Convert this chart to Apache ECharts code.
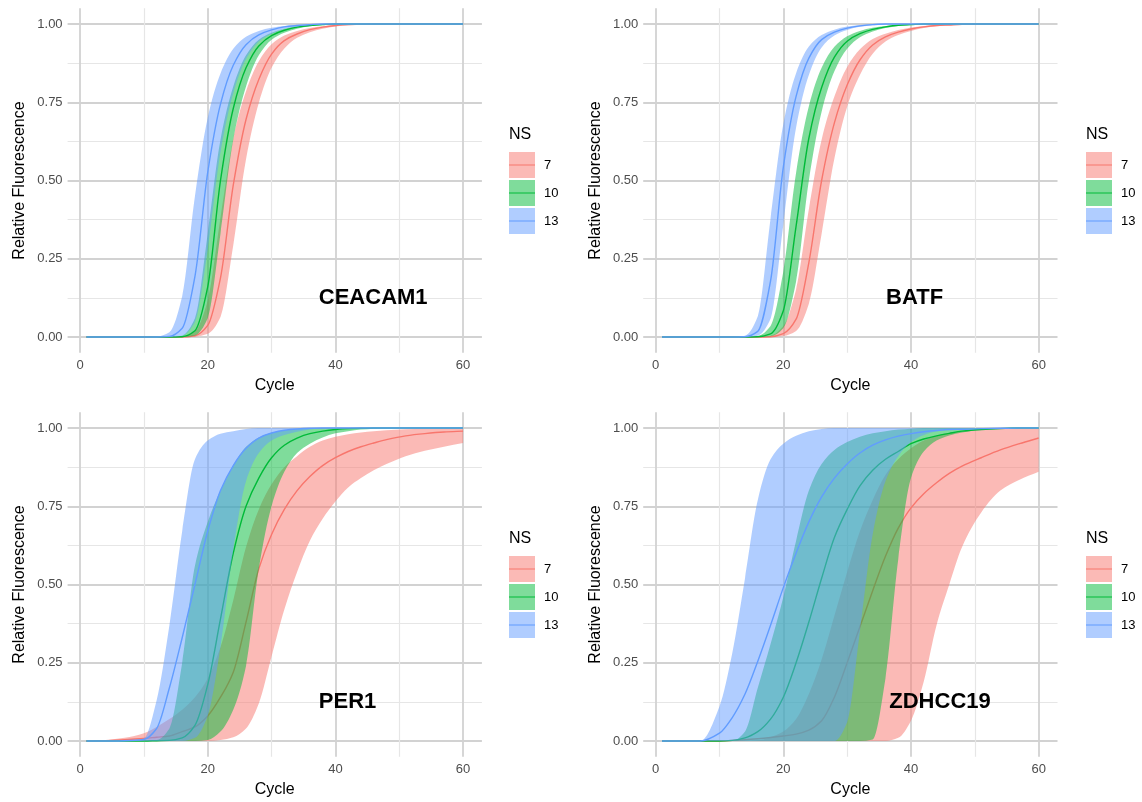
<!DOCTYPE html>
<html>
<head>
<meta charset="utf-8">
<script src="https://cdn.jsdelivr.net/npm/echarts@6/dist/echarts.min.js"></script>
<style>
  html, body { margin: 0; padding: 0; background: #ffffff; }
  #chart { width: 1142px; height: 802px; }
</style>
</head>
<body>
<div id="chart"></div>
<script>
// Amplification cycles at which each fitted curve and its band are tabulated
const cycles = [1, 4, 7, 10, 12, 14, 16, 18, 20, 22, 24, 26, 28, 30, 32, 34, 36, 38, 40, 42, 44, 46, 48, 51, 54, 57, 60];

const genes = ['CEACAM1', 'BATF', 'PER1', 'ZDHCC19'];
const nsLevels = ['7', '10', '13'];
const nsColors = ['#F8766D', '#00BA38', '#619CFF'];
const ribbonColors = ['rgba(248,118,109,0.5)', 'rgba(0,186,56,0.5)', 'rgba(97,156,255,0.5)'];

const xTicks = [0, 20, 40, 60];
const xMinorTicks = [10, 30, 50];
const yTicks = [0, 0.25, 0.5, 0.75, 1];
const yTickLabels = ['0.00', '0.25', '0.50', '0.75', '1.00'];
const yMinorTicks = [0.125, 0.375, 0.625, 0.875];

// gene label anchor (left edge) per panel
const labelCycle = [37.4, 36.1, 37.4, 36.6];
const labelLevel = 0.125;

// ---- CEACAM1 ----
const CEACAM1_7_lo  = [0,0,0,0,0,0,0,0.001,0.01,0.064,0.293,0.568,0.748,0.86,0.922,0.956,0.974,0.985,0.992,0.996,0.998,0.999,1,1,1,1,1];
const CEACAM1_7_fit = [0,0,0,0,0,0,0,0.004,0.037,0.189,0.485,0.695,0.823,0.904,0.947,0.968,0.982,0.99,0.995,0.998,0.999,1,1,1,1,1,1];
const CEACAM1_7_hi  = [0,0,0,0,0,0,0.001,0.018,0.117,0.381,0.634,0.785,0.881,0.935,0.963,0.978,0.987,0.993,0.997,0.999,1,1,1,1,1,1,1];
const CEACAM1_10_lo  = [0,0,0,0,0,0,0,0.005,0.06,0.33,0.63,0.8,0.9,0.95,0.972,0.985,0.993,0.997,0.999,1,1,1,1,1,1,1,1];
const CEACAM1_10_fit = [0,0,0,0,0,0,0.001,0.02,0.16,0.5,0.73,0.86,0.93,0.963,0.98,0.99,0.995,0.998,1,1,1,1,1,1,1,1,1];
const CEACAM1_10_hi  = [0,0,0,0,0,0,0.005,0.06,0.33,0.63,0.8,0.9,0.95,0.972,0.985,0.993,0.997,0.999,1,1,1,1,1,1,1,1,1];
const CEACAM1_13_lo  = [0,0,0,0,0,0,0.004,0.048,0.279,0.591,0.779,0.888,0.944,0.969,0.984,0.992,0.996,0.999,1,1,1,1,1,1,1,1,1];
const CEACAM1_13_fit = [0,0,0,0,0,0.002,0.028,0.194,0.526,0.744,0.868,0.934,0.965,0.981,0.991,0.995,0.998,1,1,1,1,1,1,1,1,1,1];
const CEACAM1_13_hi  = [0,0,0,0,0.001,0.015,0.13,0.45,0.7,0.842,0.921,0.959,0.978,0.988,0.994,0.998,1,1,1,1,1,1,1,1,1,1,1];

// ---- BATF ----
const BATF_7_lo  = [0,0,0,0,0,0,0,0,0.003,0.019,0.106,0.33,0.57,0.736,0.837,0.905,0.944,0.965,0.978,0.987,0.993,0.996,0.998,1,1,1,1];
const BATF_7_fit = [0,0,0,0,0,0,0,0.001,0.011,0.057,0.238,0.5,0.684,0.805,0.885,0.933,0.959,0.974,0.984,0.991,0.995,0.997,0.999,1,1,1,1];
const BATF_7_hi  = [0,0,0,0,0,0,0,0.004,0.035,0.152,0.408,0.63,0.768,0.863,0.919,0.952,0.969,0.981,0.989,0.994,0.997,0.998,0.999,1,1,1,1];
const BATF_10_lo  = [0,0,0,0,0,0,0,0.002,0.028,0.177,0.5,0.72,0.849,0.921,0.958,0.976,0.987,0.994,0.997,0.999,1,1,1,1,1,1,1];
const BATF_10_fit = [0,0,0,0,0,0,0.001,0.01,0.084,0.354,0.635,0.797,0.894,0.945,0.969,0.983,0.991,0.996,0.998,1,1,1,1,1,1,1,1];
const BATF_10_hi  = [0,0,0,0,0,0,0.003,0.035,0.209,0.525,0.737,0.86,0.927,0.961,0.978,0.988,0.994,0.997,0.999,1,1,1,1,1,1,1,1];
const BATF_13_lo  = [0,0,0,0,0,0,0.004,0.058,0.359,0.669,0.837,0.925,0.963,0.981,0.991,0.996,0.999,1,1,1,1,1,1,1,1,1,1];
const BATF_13_fit = [0,0,0,0,0,0.001,0.018,0.179,0.543,0.769,0.891,0.95,0.974,0.987,0.994,0.998,1,1,1,1,1,1,1,1,1,1,1];
const BATF_13_hi  = [0,0,0,0,0,0.004,0.066,0.378,0.68,0.843,0.928,0.965,0.982,0.992,0.997,0.999,1,1,1,1,1,1,1,1,1,1,1];

// ---- PER1 ----
const PER1_7_lo  = [0,0,0,0,0,0,0,0,0,0.003,0.012,0.04,0.12,0.27,0.42,0.54,0.64,0.71,0.765,0.81,0.84,0.865,0.885,0.91,0.927,0.94,0.952];
const PER1_7_fit = [0,0.001,0.004,0.008,0.012,0.016,0.03,0.045,0.08,0.14,0.22,0.38,0.55,0.66,0.74,0.8,0.845,0.88,0.905,0.925,0.94,0.952,0.963,0.975,0.982,0.987,0.99];
const PER1_7_hi  = [0,0.003,0.01,0.025,0.045,0.07,0.1,0.14,0.2,0.3,0.45,0.62,0.74,0.82,0.875,0.91,0.94,0.96,0.972,0.98,0.986,0.99,0.993,0.996,0.998,0.999,1];
const PER1_10_lo  = [0,0,0,0,0,0,0,0,0.003,0.03,0.1,0.24,0.55,0.75,0.86,0.92,0.95,0.97,0.983,0.99,0.995,0.998,0.999,1,1,1,1];
const PER1_10_fit = [0,0,0,0,0.001,0.002,0.01,0.05,0.18,0.39,0.6,0.75,0.84,0.905,0.945,0.968,0.982,0.99,0.995,0.998,0.999,1,1,1,1,1,1];
const PER1_10_hi  = [0,0,0,0,0.003,0.04,0.25,0.56,0.7,0.8,0.88,0.94,0.97,0.985,0.993,0.997,0.999,1,1,1,1,1,1,1,1,1,1];
const PER1_13_lo  = [0,0,0,0,0,0,0,0.01,0.08,0.3,0.61,0.83,0.92,0.96,0.978,0.988,0.995,0.999,1,1,1,1,1,1,1,1,1];
const PER1_13_fit = [0,0,0.001,0.005,0.04,0.17,0.33,0.5,0.67,0.8,0.88,0.935,0.968,0.984,0.993,0.997,0.999,1,1,1,1,1,1,1,1,1,1];
const PER1_13_hi  = [0,0,0.001,0.008,0.13,0.37,0.67,0.9,0.96,0.982,0.99,0.997,1,1,1,1,1,1,1,1,1,1,1,1,1,1,1];

// ---- ZDHCC19 ----
const ZDHCC19_7_lo  = [0,0,0,0,0,0,0,0,0,0,0,0,0,0,0,0,0,0.01,0.065,0.19,0.37,0.5,0.62,0.73,0.8,0.835,0.86];
const ZDHCC19_7_fit = [0,0,0,0,0.002,0.004,0.007,0.011,0.016,0.022,0.035,0.065,0.14,0.25,0.365,0.48,0.59,0.68,0.745,0.79,0.825,0.855,0.878,0.905,0.93,0.95,0.968];
const ZDHCC19_7_hi  = [0,0,0,0,0,0,0.002,0.012,0.03,0.07,0.15,0.26,0.4,0.54,0.67,0.77,0.85,0.9,0.935,0.96,0.975,0.985,0.99,0.996,0.998,1,1];
const ZDHCC19_10_lo  = [0,0,0,0,0,0,0,0,0,0,0,0,0,0,0,0.005,0.2,0.58,0.84,0.925,0.96,0.976,0.986,0.994,0.998,1,1];
const ZDHCC19_10_fit = [0,0,0,0,0.002,0.01,0.03,0.07,0.14,0.25,0.38,0.52,0.65,0.74,0.815,0.865,0.9,0.925,0.95,0.965,0.975,0.983,0.99,0.995,0.998,1,1];
const ZDHCC19_10_hi  = [0,0,0,0,0,0.03,0.17,0.31,0.46,0.64,0.8,0.885,0.93,0.955,0.972,0.983,0.99,0.995,0.998,1,1,1,1,1,1,1,1];
const ZDHCC19_13_lo  = [0,0,0,0,0,0,0,0,0,0,0,0,0,0.06,0.35,0.66,0.83,0.91,0.955,0.978,0.99,0.995,0.998,1,1,1,1];
const ZDHCC19_13_fit = [0,0,0,0.025,0.075,0.15,0.255,0.37,0.49,0.6,0.7,0.78,0.84,0.885,0.92,0.945,0.962,0.974,0.982,0.988,0.992,0.995,0.996,0.998,0.999,1,1];
const ZDHCC19_13_hi  = [0,0,0,0.11,0.28,0.52,0.77,0.9,0.95,0.975,0.99,0.997,1,1,1,1,1,1,1,1,1,1,1,1,1,1,1];

// lower / fit / upper per gene and NS level
const curveTable = [
  [[CEACAM1_7_lo, CEACAM1_7_fit, CEACAM1_7_hi], [CEACAM1_10_lo, CEACAM1_10_fit, CEACAM1_10_hi], [CEACAM1_13_lo, CEACAM1_13_fit, CEACAM1_13_hi]],
  [[BATF_7_lo, BATF_7_fit, BATF_7_hi], [BATF_10_lo, BATF_10_fit, BATF_10_hi], [BATF_13_lo, BATF_13_fit, BATF_13_hi]],
  [[PER1_7_lo, PER1_7_fit, PER1_7_hi], [PER1_10_lo, PER1_10_fit, PER1_10_hi], [PER1_13_lo, PER1_13_fit, PER1_13_hi]],
  [[ZDHCC19_7_lo, ZDHCC19_7_fit, ZDHCC19_7_hi], [ZDHCC19_10_lo, ZDHCC19_10_fit, ZDHCC19_10_hi], [ZDHCC19_13_lo, ZDHCC19_13_fit, ZDHCC19_13_hi]]
];

// ---- layout ----
const FONT = '"Liberation Sans", Arial, Helvetica, sans-serif';
const panelLeft = [67.6, 643.2, 67.6, 643.2];
const panelTop = [8.35, 8.35, 412.35, 412.35];
const PANEL_W = 414.3;
const PANEL_H = 344.3;
const legendLeft = [509, 1086, 509, 1086];
const legendTop = [152, 152, 556, 556];
const X_MIN = -1.95, X_MAX = 62.95;
const Y_MIN = -0.05, Y_MAX = 1.05;
const majorGrid = { color: '#d2d2d2', width: 1.8 };
const minorGrid = { color: '#e6e6e6', width: 1.2 };
// thin horizontal bar with hair-thin corner anchors so the icon keeps a 26x26 box
const keyLineIcon = 'path://M0,0h0.01v0.01h-0.01z M0,12.4h26v1.2h-26z M25.99,25.99h0.01v0.01h-0.01z';

// Monotone cubic (Fritsch-Carlson) tangents for pixel points ordered by x
function tangents(p) {
  const n = p.length, d = [], m = [];
  for (let i = 0; i < n - 1; i++) {
    const dx = p[i + 1][0] - p[i][0];
    d.push(dx);
    m.push((p[i + 1][1] - p[i][1]) / dx);
  }
  const t = new Array(n);
  t[0] = m[0];
  t[n - 1] = m[n - 2];
  for (let i = 1; i < n - 1; i++) {
    if (m[i - 1] * m[i] <= 0) { t[i] = 0; continue; }
    const w1 = 2 * d[i] + d[i - 1], w2 = d[i] + 2 * d[i - 1];
    t[i] = (w1 + w2) / (w1 / m[i - 1] + w2 / m[i]);
  }
  return t;
}
// path segments through points, forward or backward
function curveSegments(p, reverse) {
  const t = tangents(p);
  const f = v => v.toFixed(2);
  let s = '';
  if (!reverse) {
    for (let i = 0; i < p.length - 1; i++) {
      const h = (p[i + 1][0] - p[i][0]) / 3;
      s += ' C' + f(p[i][0] + h) + ',' + f(p[i][1] + t[i] * h) + ' ' +
           f(p[i + 1][0] - h) + ',' + f(p[i + 1][1] - t[i + 1] * h) + ' ' +
           f(p[i + 1][0]) + ',' + f(p[i + 1][1]);
    }
  } else {
    for (let i = p.length - 1; i > 0; i--) {
      const h = (p[i][0] - p[i - 1][0]) / 3;
      s += ' C' + f(p[i][0] - h) + ',' + f(p[i][1] - t[i] * h) + ' ' +
           f(p[i - 1][0] + h) + ',' + f(p[i - 1][1] + t[i - 1] * h) + ' ' +
           f(p[i - 1][0]) + ',' + f(p[i - 1][1]);
    }
  }
  return s;
}

const grids = [], xAxes = [], yAxes = [], series = [], legends = [], titles = [];

genes.forEach((gene, i) => {
  grids.push({ left: panelLeft[i], top: panelTop[i], width: PANEL_W, height: PANEL_H, containLabel: false });

  xAxes.push({
    gridIndex: i, type: 'value', min: X_MIN, max: X_MAX,
    axisLine: { show: false },
    axisTick: { show: false, customValues: xTicks },
    axisLabel: { customValues: xTicks, color: '#4d4d4d', fontSize: 13, margin: 6, fontFamily: FONT },
    splitLine: { show: true, lineStyle: majorGrid },
    name: 'Cycle', nameLocation: 'middle', nameGap: 25,
    nameTextStyle: { color: '#000', fontSize: 16, fontFamily: FONT }
  });
  xAxes.push({
    gridIndex: i, type: 'value', min: X_MIN, max: X_MAX, position: 'bottom',
    axisLine: { show: false },
    axisTick: { show: false, customValues: xMinorTicks },
    axisLabel: { show: false },
    splitLine: { show: true, lineStyle: minorGrid }
  });
  yAxes.push({
    gridIndex: i, type: 'value', min: Y_MIN, max: Y_MAX,
    axisLine: { show: false },
    axisTick: { show: false, customValues: yTicks },
    axisLabel: {
      customValues: yTicks, color: '#4d4d4d', fontSize: 13, margin: 5, fontFamily: FONT,
      formatter: v => yTickLabels[yTicks.indexOf(v)]
    },
    splitLine: { show: true, lineStyle: majorGrid },
    name: 'Relative Fluorescence', nameLocation: 'middle', nameGap: 40,
    nameTextStyle: { color: '#000', fontSize: 16, fontFamily: FONT }
  });
  yAxes.push({
    gridIndex: i, type: 'value', min: Y_MIN, max: Y_MAX, position: 'left',
    axisLine: { show: false },
    axisTick: { show: false, customValues: yMinorTicks },
    axisLabel: { show: false },
    splitLine: { show: true, lineStyle: minorGrid }
  });

  const xi = 2 * i, yi = 2 * i;
  nsLevels.forEach((ns, g) => {
    const [lo, fit, hi] = curveTable[i][g];

    // confidence ribbon between lower and upper bound
    series.push({
      type: 'custom', name: ns, xAxisIndex: xi, yAxisIndex: yi, silent: true, clip: true,
      data: cycles.map((c, k) => [c, lo[k], hi[k]]),
      encode: { x: 0, y: [1, 2] },
      renderItem: (params, api) => {
        if (params.dataIndex !== 0) return null;
        const up = cycles.map((c, k) => api.coord([c, hi[k]]));
        const dn = cycles.map((c, k) => api.coord([c, lo[k]]));
        const d = 'M' + up[0][0] + ',' + up[0][1] + curveSegments(up, false) +
                  ' L' + dn[dn.length - 1][0] + ',' + dn[dn.length - 1][1] + curveSegments(dn, true) + ' Z';
        return { type: 'path', shape: { pathData: d }, style: { fill: ribbonColors[g], stroke: null } };
      }
    });
    // fitted curve
    series.push({
      type: 'custom', name: ns, xAxisIndex: xi, yAxisIndex: yi, silent: true, clip: true,
      data: cycles.map((c, k) => [c, fit[k]]),
      encode: { x: 0, y: 1 },
      renderItem: (params, api) => {
        if (params.dataIndex !== 0) return null;
        const pts = cycles.map((c, k) => api.coord([c, fit[k]]));
        const d = 'M' + pts[0][0] + ',' + pts[0][1] + curveSegments(pts, false);
        return { type: 'path', shape: { pathData: d }, style: { fill: null, stroke: nsColors[g], lineWidth: 1.4 } };
      }
    });
  });

  // gene name inside the panel
  series.push({
    type: 'scatter', name: gene, xAxisIndex: xi, yAxisIndex: yi, z: 10,
    data: [[labelCycle[i], labelLevel]], symbolSize: 1, silent: true,
    itemStyle: { color: 'rgba(255,255,255,0)', opacity: 1 },
    label: {
      show: true, position: 'inside', align: 'left', verticalAlign: 'middle', opacity: 1,
      formatter: gene, color: '#000000', fontSize: 22, fontWeight: 'bold', fontFamily: FONT,
      textBorderWidth: 0
    }
  });

  titles.push({
    text: 'NS', left: legendLeft[i], top: legendTop[i] - 25, padding: 0,
    textStyle: { color: '#000', fontSize: 16, fontWeight: 'normal', fontFamily: FONT }
  });

  const legendBase = {
    orient: 'vertical', left: legendLeft[i], top: legendTop[i], padding: 0,
    itemWidth: 26, itemHeight: 26, itemGap: 2, selectedMode: false
  };
  legends.push(Object.assign({}, legendBase, {
    data: nsLevels.map((ns, g) => ({ name: ns, icon: 'rect', itemStyle: { color: ribbonColors[g], borderWidth: 0 } })),
    textStyle: { color: '#000', fontSize: 13, fontFamily: FONT, padding: [0, 0, 0, 4] }
  }));
  legends.push(Object.assign({}, legendBase, {
    data: nsLevels.map((ns, g) => ({ name: ns, icon: keyLineIcon, itemStyle: { color: nsColors[g], borderWidth: 0 } })),
    textStyle: { color: 'rgba(0,0,0,0)', fontSize: 13, fontFamily: FONT, padding: [0, 0, 0, 4] }
  }));
});

const chart = echarts.init(document.getElementById('chart'), null, { renderer: 'canvas' });
chart.setOption({
  animation: false,
  backgroundColor: '#ffffff',
  textStyle: { fontFamily: FONT },
  title: titles,
  legend: legends,
  grid: grids,
  xAxis: xAxes,
  yAxis: yAxes,
  series: series
});
</script>
</body>
</html>
